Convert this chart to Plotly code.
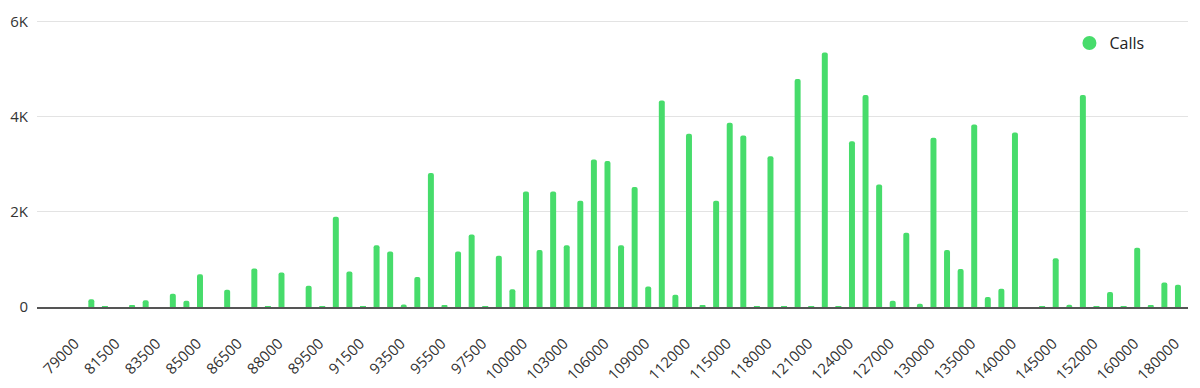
import plotly.graph_objects as go

strikes = [
    "79000", "80000", "81000", "81500", "82000", "83000", "83500", "84000", "84500", "85000",
    "85500", "86000", "86500", "87000", "87500", "88000", "88500", "89000", "89500", "90000",
    "91000", "91500", "92000", "93000", "93500", "94000", "95000", "95500", "96000", "97000",
    "97500", "98000", "99000", "100000", "101000", "102000", "103000", "104000", "105000", "106000",
    "107000", "108000", "109000", "110000", "111000", "112000", "113000", "114000", "115000", "116000",
    "117000", "118000", "119000", "120000", "121000", "122000", "123000", "124000", "125000", "126000",
    "127000", "128000", "129000", "130000", "132000", "134000", "135000", "136000", "138000", "140000",
    "142000", "144000", "145000", "148000", "150000", "152000", "155000", "158000", "160000", "165000",
    "170000", "180000",
]

calls = [
    0, 165, 10, 0, 40, 140, 0, 280, 130, 690,
    0, 360, 0, 810, 15, 725, 0, 445, 10, 1895,
    745, 10, 1300, 1165, 50, 630, 2815, 40, 1165, 1525,
    10, 1075, 375, 2425, 1200, 2425, 1300, 2230, 3100, 3070,
    1300, 2520, 430, 4340, 255, 3640, 30, 2230, 3870, 3605,
    5, 3165, 20, 4790, 20, 5345, 5, 3480, 4455, 2575,
    130, 1560, 70, 3555, 1200, 800, 3835, 210, 385, 3665,
    0, 5, 1025, 48, 4455, 5, 315, 5, 1245, 30,
    515, 467,
]

tick_labels = [
    "79000", "81500", "83500", "85000", "86500", "88000", "89500", "91500", "93500", "95500",
    "97500", "100000", "103000", "106000", "109000", "112000", "115000", "118000", "121000", "124000",
    "127000", "130000", "135000", "140000", "145000", "152000", "160000", "180000",
]

y_ticks = [0, 2000, 4000, 6000]
y_tick_text = ["0", "2K", "4K", "6K"]

GREEN = "#47dc6b"
FONT = "Open Sans"

fig = go.Figure()
fig.add_trace(go.Bar(
    x=strikes, y=calls, name="Calls", showlegend=False,
    marker=dict(color=GREEN, cornerradius=3, line=dict(width=0)),
    width=0.44,
))
fig.add_trace(go.Scatter(
    x=[None], y=[None], mode="markers", name="Calls",
    marker=dict(color=GREEN, size=14, symbol="circle"),
))

# page body has an 8px default margin, so margins compensate for it
fig.update_layout(
    width=1200, height=388,
    margin=dict(l=29, r=20, t=12, b=89, autoexpand=False),
    paper_bgcolor="white", plot_bgcolor="white",
    font=dict(family=FONT, size=15, color="#333333"),
    bargap=0.56,
    legend=dict(
        x=0.897, y=0.979, xanchor="left", yanchor="top",
        bgcolor="rgba(0,0,0,0)", font=dict(size=16, color="#222222"),
    ),
    xaxis=dict(
        type="category", categoryorder="array", categoryarray=strikes,
        range=[-3.0, 81.74], automargin=False,
        tickmode="array", tickvals=tick_labels, ticktext=tick_labels,
        tickangle=-45, showgrid=False, zeroline=False,
        showline=True, linecolor="#555555", linewidth=2,
        ticks="", ticklabelstandoff=20, ticklabelshift=-3,
        tickfont=dict(size=15, color="#333333"),
        fixedrange=True,
    ),
    yaxis=dict(
        range=[0, 6030], tickmode="array", tickvals=y_ticks, ticktext=y_tick_text,
        showgrid=True, gridcolor="#e3e3e3", gridwidth=1, automargin=False,
        zeroline=False, showline=False, ticks="",
        ticklabelstandoff=8,
        tickfont=dict(size=15, color="#333333"),
        fixedrange=True,
    ),
)

fig.write_html("out.html")
